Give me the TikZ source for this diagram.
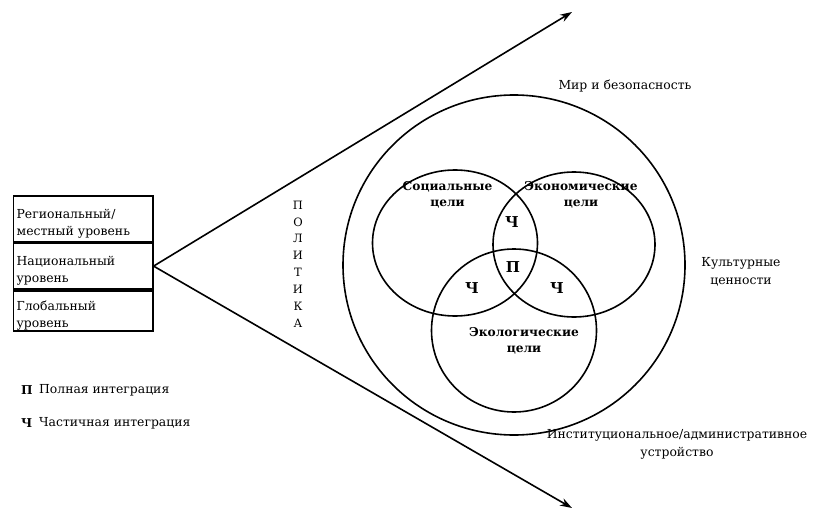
\documentclass[tikz,border=0pt]{standalone}
\usepackage{fontspec}
\setmainfont{DejaVu Serif}
\usetikzlibrary{shapes.geometric,arrows.meta}
\newcommand{\decal}{\rule{0pt}{18.5pt}}
\begin{document}
\begin{tikzpicture}[x=1pt,y=-1pt,line width=1.6pt]
\tikzstyle{niveau}=[draw, rectangle, minimum width=139.3pt, text width=133pt, inner xsep=3pt, inner ysep=0pt, align=left, anchor=north west, font=\fontsize{12.4}{17}\selectfont]
\tikzstyle{but}=[draw, ellipse, inner sep=0pt]
\tikzstyle{titre}=[font=\bfseries\fontsize{12.2}{16.5}\selectfont, align=center]
\tikzstyle{lettre}=[font=\bfseries\fontsize{15}{16}\selectfont]
\tikzstyle{texte}=[font=\fontsize{12.4}{18}\selectfont, align=center]
\useasboundingbox (0,0) rectangle (813,513);
% niveaux
\node[niveau, minimum height=45.7pt] (reg) at (12.7,195) {\decal Региональный/\\местный уровень};
\node[niveau, minimum height=46pt] (nat) at (reg.south west) {\decal Национальный\\уровень};
\node[niveau, minimum height=40pt] (glob) at (nat.south west) {\decal Глобальный\\уровень};
% politique
\coordinate (haut) at (572,12);
\coordinate (bas) at (572,508);
\draw[-{Stealth[length=12pt,width=8pt]}] (nat.east) -- (haut);
\draw[-{Stealth[length=12pt,width=8pt]}] (nat.east) -- (bas);
\foreach \l [count=\i] in {П,О,Л,И,Т,И,К,А}
  \node[texte, font=\fontsize{11.5}{14}\selectfont, inner sep=0pt] (pol\i) at (298,{205+16.9*(\i-1)}) {\l};
% cercles
\node[but, minimum width=342pt, minimum height=340pt] (monde) at (514,265) {};
\node[but, minimum width=165pt, minimum height=146pt] (soc) at (455,243) {};
\node[but, minimum width=162pt, minimum height=145pt] (eco) at (574,244.5) {};
\node[but, minimum width=165pt, minimum height=163pt] (env) at (514,330.5) {};
% textes
\node[titre] (tsoc) at (447.5,195) {Социальные\\цели};
\node[titre] (teco) at (581,195) {Экономические\\цели};
\node[titre] (tenv) at (524,341) {Экологические\\цели};
\node[lettre] (ch1) at (512,222) {Ч};
\node[lettre] (pl) at (513,267) {П};
\node[lettre] (ch2) at (472,288) {Ч};
\node[lettre] (ch3) at (557,288) {Ч};
\node[texte] (paix) at (625,86) {Мир и безопасность};
\node[texte] (cult) at (741,272) {Культурные\\ценности};
\node[texte] (inst) at (677,444) {Институциональное/административное\\устройство};
% legende
\node[titre, anchor=west] (lp) at (17,390) {П};
\node[texte, anchor=west] (lpt) at (35,390) {Полная интеграция};
\node[titre, anchor=west] (lc) at (17,423) {Ч};
\node[texte, anchor=west] (lct) at (35,423) {Частичная интеграция};
\end{tikzpicture}
\end{document}
